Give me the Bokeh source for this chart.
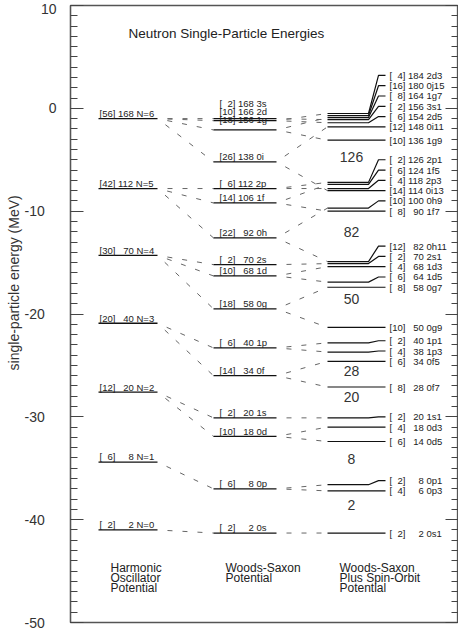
import numpy as np
from bokeh.plotting import figure
from bokeh.models import Range1d, SingleIntervalTicker, LinearAxis
from bokeh.core.properties import value
from bokeh.embed import file_html
from bokeh.resources import INLINE

# ---------------- data ----------------
ho_names = ["N=0", "N=1", "N=2", "N=3", "N=4", "N=5", "N=6"]
ho_deg = [2, 6, 12, 20, 30, 42, 56]
ho_energy = [-41.0, -34.4, -27.6, -20.9, -14.3, -7.8, -1.0]

ws_names = ["0s", "0p", "0d", "1s", "0f", "1p", "0g", "1d", "2s", "0h", "1f", "2p", "0i", "1g", "2d", "3s"]
ws_deg = [2, 6, 10, 2, 14, 6, 18, 10, 2, 22, 14, 6, 26, 18, 10, 2]
ws_energy = [-41.3, -37.0, -31.9, -30.1, -26.0, -23.3, -19.5, -16.3, -15.2, -12.6, -9.2, -7.8, -5.2, -2.1, -1.2, -1.0]
ws_parent = ["N=0", "N=1", "N=2", "N=2", "N=3", "N=3", "N=4", "N=4", "N=4", "N=5", "N=5", "N=5", "N=6", "N=6", "N=6", "N=6"]

so_names = ["0s1", "0p3", "0p1", "0d5", "0d3", "1s1", "0f7", "0f5", "1p3", "1p1", "0g9", "0g7", "1d5", "1d3", "2s1",
            "0h11", "1f7", "0h9", "0i13", "2p3", "1f5", "2p1", "1g9", "0i11", "2d5", "3s1", "1g7", "0j15", "2d3"]
so_deg = [2, 4, 2, 6, 4, 2, 8, 6, 4, 2, 10, 8, 6, 4, 2, 12, 8, 10, 14, 4, 6, 2, 10, 12, 6, 2, 8, 16, 4]
so_energy = [-41.3, -37.2, -36.6, -32.4, -31.0, -30.1, -27.1, -24.6, -23.7, -22.8, -21.3, -17.4, -16.9, -15.4, -15.1,
             -14.9, -10.0, -9.7, -8.0, -7.8, -7.4, -7.2, -3.1, -1.8, -1.4, -1.1, -0.9, -0.7, -0.5]
so_parent = ["0s", "0p", "0p", "0d", "0d", "1s", "0f", "0f", "1p", "1p", "0g", "0g", "1d", "1d", "2s",
             "0h", "1f", "0h", "0i", "2p", "1f", "2p", "1g", "0i", "2d", "3s", "1g", None, "2d"]

magic_numbers = ["2", "8", "20", "28", "50", "82", "126"]
magic_energy = [-38.6, -34.1, -28.1, -25.5, -18.5, -12.0, -4.7]

y_ticks = [-50, -40, -30, -20, -10, 0, 10]
column_titles = [["Harmonic", "Oscillator", "Potential"],
                 ["Woods-Saxon", "Potential"],
                 ["Woods-Saxon", "Plus Spin-Orbit", "Potential"]]
title_text = "Neutron Single-Particle Energies"
y_label = "single-particle energy (MeV)"

# ---------------- layout constants (reference pixel x units) ----------------
HO_X0, HO_X1, HO_TX = 98, 157, 99
WS_X0, WS_X1, WS_TX = 213, 276, 219
SO_X0, SO_X1, SO_XB, SO_XE, SO_TX = 327, 368, 378, 385, 389
MAGIC_X = 351
TITLE_X, TITLE_Y = 128, 7.27
COLTITLE_X = [110, 225, 339]
COLTITLE_Y0, COLTITLE_DY = -44.66, 0.97
FONT = "Liberation Sans"
FIG_SP = "\u2007"


def pad(n, w):
    s = str(n)
    return FIG_SP * (w - len(s)) + s


def make_label(deg, cum, name):
    return f"[{pad(deg, 2)}] {pad(cum, 3)} {name}"


def cumulative(deg, energy):
    order = np.argsort(energy, kind="stable")
    cum = np.empty(len(deg), dtype=int)
    cum[order] = np.cumsum(np.array(deg)[order])
    return cum


def spread(energy, offset, gap):
    """labels to the right of the levels: keep a minimum gap, pushing upwards"""
    order = np.argsort(energy, kind="stable")
    out = np.empty(len(energy))
    prev = -1e9
    for i in order:
        y = max(energy[i] + offset, prev + gap)
        out[i] = y
        prev = y
    return out


def stack(energy, offset, gap, near, lift):
    """labels above the levels: near-degenerate levels get a stacked block of labels"""
    order = np.argsort(energy, kind="stable")
    groups = []
    for i in order:
        if groups and energy[i] - energy[groups[-1][-1]] < near:
            groups[-1].append(i)
        else:
            groups.append([i])
    out = np.empty(len(energy))
    for g in groups:
        if len(g) == 1:
            out[g[0]] = energy[g[0]] + offset
        else:
            base = energy[g[1]] + lift
            for k, i in enumerate(g):
                out[i] = base + k * gap
    return out


ho_cum = cumulative(ho_deg, ho_energy)
ws_cum = cumulative(ws_deg, ws_energy)
so_cum = cumulative(so_deg, so_energy)

ho_text = [make_label(d, c, n) for d, c, n in zip(ho_deg, ho_cum, ho_names)]
ws_text = [make_label(d, c, n) for d, c, n in zip(ws_deg, ws_cum, ws_names)]
so_text = [make_label(d, c, n) for d, c, n in zip(so_deg, so_cum, so_names)]

ho_ly = stack(ho_energy, 0.5, 0.78, 1.0, 0.1)
ws_ly = stack(ws_energy, 0.5, 0.78, 1.0, 0.1)
so_ly = spread(so_energy, 0.0, 1.0)

# ---------------- figure ----------------
p = figure(width=458, height=631, x_range=Range1d(70, 458), y_range=Range1d(-50, 10),
           output_backend="svg", toolbar_location=None, x_axis_location=None,
           y_axis_location="left", min_border_left=70, min_border_right=0,
           min_border_top=5, min_border_bottom=9, background_fill_color="white",
           border_fill_color="white")
p.grid.visible = False
p.outline_line_color = "#555555"
p.outline_line_width = 1.3

yax = p.yaxis[0]
yax.ticker = SingleIntervalTicker(interval=10, num_minor_ticks=10)
yax.major_tick_in = 13
yax.major_tick_out = 0
yax.minor_tick_in = 7
yax.minor_tick_out = 0
yax.axis_line_color = "#555555"
yax.axis_line_width = 1.3
yax.major_tick_line_color = "#444444"
yax.minor_tick_line_color = "#444444"
yax.major_label_standoff = 14
yax.major_label_text_font = FONT
yax.major_label_text_font_size = "14px"
yax.major_label_text_color = "#333333"
yax.major_label_overrides = {t: (str(t) if t >= 0 else str(t) + "\u2007\u00a0") for t in y_ticks}
yax.axis_label = FIG_SP * 8 + y_label
yax.axis_label_standoff = 0
yax.axis_label_text_font = FONT
yax.axis_label_text_font_size = "14px"
yax.axis_label_text_font_style = "normal"
yax.axis_label_text_color = "#333333"

rax = LinearAxis(ticker=SingleIntervalTicker(interval=10, num_minor_ticks=10),
                 major_label_overrides={t: "" for t in y_ticks},
                 major_label_text_color=None, major_label_standoff=0,
                 major_tick_in=13, major_tick_out=0, minor_tick_in=7, minor_tick_out=0,
                 axis_line_color="#555555", major_tick_line_color="#444444",
                 minor_tick_line_color="#444444")
p.add_layout(rax, "right")

# dashed connectors HO -> WS and WS -> WS+SO
ho_idx = {n: i for i, n in enumerate(ho_names)}
ws_idx = {n: i for i, n in enumerate(ws_names)}
dash_x0, dash_y0, dash_x1, dash_y1 = [], [], [], []
for i, par in enumerate(ws_parent):
    dash_x0.append(HO_X1); dash_y0.append(ho_energy[ho_idx[par]])
    dash_x1.append(WS_X0); dash_y1.append(ws_energy[i])
for i, par in enumerate(so_parent):
    if par is None:
        continue
    dash_x0.append(WS_X1); dash_y0.append(ws_energy[ws_idx[par]])
    dash_x1.append(SO_X0); dash_y1.append(so_energy[i])
p.segment(x0=dash_x0, y0=dash_y0, x1=dash_x1, y1=dash_y1, line_color="#666666",
          line_width=1, line_dash="5 10", line_dash_offset=5)

# level lines
p.segment(x0=[HO_X0] * len(ho_energy), y0=ho_energy, x1=[HO_X1] * len(ho_energy), y1=ho_energy,
          line_color="#111111", line_width=1.3)
p.segment(x0=[WS_X0] * len(ws_energy), y0=ws_energy, x1=[WS_X1] * len(ws_energy), y1=ws_energy,
          line_color="#111111", line_width=1.3)
so_xs = [[SO_X0, SO_X1, SO_XB, SO_XE] for _ in so_energy]
so_ys = [[e, e, ly, ly] for e, ly in zip(so_energy, so_ly)]
p.multi_line(xs=so_xs, ys=so_ys, line_color="#111111", line_width=1.2)

# level labels
lab_kw = dict(text_font=value(FONT), text_font_size=value("9.5px"), text_color="#222222",
              text_baseline="alphabetic", text_align="left")
p.text(x=[HO_TX] * len(ho_text), y=list(ho_ly), text=ho_text, **lab_kw)
p.text(x=[WS_TX] * len(ws_text), y=list(ws_ly), text=ws_text, **lab_kw)
p.text(x=[SO_TX] * len(so_text), y=list(so_ly), text=so_text, **lab_kw)

# magic numbers
p.text(x=[MAGIC_X] * len(magic_numbers), y=magic_energy, text=magic_numbers,
       text_font=value(FONT), text_font_size=value("14px"), text_color="#333333",
       text_align="center", text_baseline="middle")

# title
p.text(x=[TITLE_X], y=[TITLE_Y], text=[title_text], text_font=value(FONT),
       text_font_size=value("13.5px"), text_color="#222222", text_align="left",
       text_baseline="middle")

# column titles
ct_x, ct_y, ct_t = [], [], []
for cx, lines in zip(COLTITLE_X, column_titles):
    for k, line in enumerate(lines):
        ct_x.append(cx); ct_y.append(COLTITLE_Y0 - k * COLTITLE_DY); ct_t.append(line)
p.text(x=ct_x, y=ct_y, text=ct_t, text_font=value(FONT), text_font_size=value("12px"),
       text_color="#222222", text_align="left", text_baseline="middle")

open("out.html", "w").write(file_html(p, INLINE))
